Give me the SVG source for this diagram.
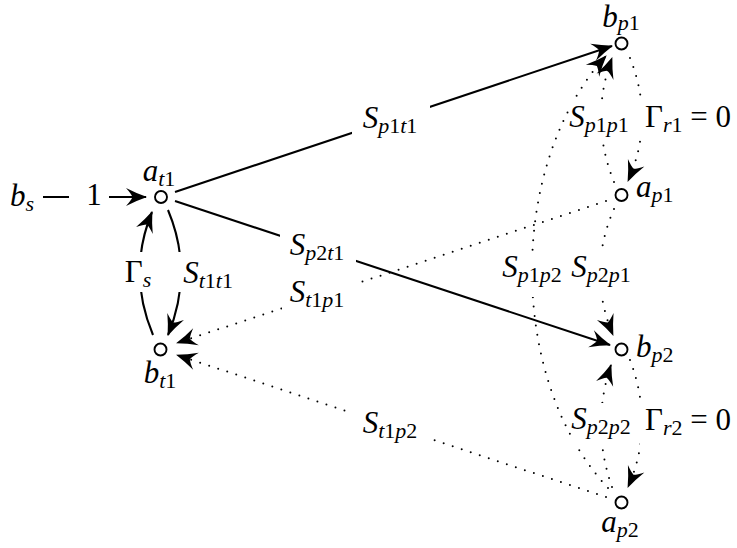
<svg xmlns="http://www.w3.org/2000/svg" width="737" height="548" viewBox="0 0 737 548">
<style>
text { font-family: "Liberation Serif", "DejaVu Serif", serif; font-size: 31px; font-style: italic; fill: #000; }
.up { font-style: normal; }
.sub { font-size: 22px; }
.c { text-anchor: middle; }
.solid { fill: none; stroke: #000; stroke-width: 2.1; }
.dot { fill: none; stroke: #000; stroke-width: 2; stroke-linecap: round; stroke-dasharray: 0 9.5; }
.node { fill: #fff; stroke: #000; stroke-width: 1.9; }
.bg { fill: #fff; stroke: none; }
</style>
<defs>
<marker id="arr" viewBox="-23 -11 25 22" refX="0" refY="0" markerWidth="25" markerHeight="22" markerUnits="userSpaceOnUse" orient="auto">
<path d="M1,0 Q-10,-3.8 -20,-9 Q-15,-3.5 -13.5,0 Q-15,3.5 -20,9 Q-10,3.8 1,0 Z" fill="#000"/>
</marker>
</defs>
<rect x="0" y="0" width="737" height="548" fill="#fff"/>

<g id="connectors">
<path id="e-bs-at1" class="solid" d="M43,197 L146,197" marker-end="url(#arr)"/>
<path id="e-at1-bp1" class="solid" d="M175,192 L612,46" marker-end="url(#arr)"/>
<path id="e-at1-bp2" class="solid" d="M175,201 L610,345" marker-end="url(#arr)"/>
<path id="e-bt1-at1" class="solid" d="M153,335 Q127,273 152,212" marker-end="url(#arr)"/>
<path id="e-at1-bt1" class="solid" d="M168,210 Q194,272 168,335" marker-end="url(#arr)"/>
<path id="e-ap1-bt1" class="dot" d="M606,201 L177,343" marker-end="url(#arr)"/>
<path id="e-ap2-bt1" class="dot" d="M606,497 L177,355" marker-end="url(#arr)"/>
<path id="e-bp1-ap1" class="dot" d="M630,58 Q655,120.5 628,181" marker-end="url(#arr)"/>
<path id="e-ap1-bp1" class="dot" d="M614,182 Q589,120 612,58" marker-end="url(#arr)"/>
<path id="e-ap2-bp1" class="dot" d="M608,488 C507,380 507,164 606,56" marker-end="url(#arr)"/>
<path id="e-ap1-bp2" class="dot" d="M614,209 Q586.5,272 613,335" marker-end="url(#arr)"/>
<path id="e-ap2-bp2" class="dot" d="M612,487 Q590.5,426 611,365" marker-end="url(#arr)"/>
<path id="e-bp2-ap2" class="dot" d="M630,360 Q655,426.5 628,487" marker-end="url(#arr)"/>
</g>

<g id="edge-labels">
<rect class="bg" x="69" y="184" width="40" height="26"/>
<text class="c up" x="94" y="205">1</text>

<rect class="bg" x="352" y="104" width="78" height="36"/>
<text class="c" x="390" y="128">S<tspan class="sub" dy="5">p</tspan><tspan class="sub up">1</tspan><tspan class="sub">t</tspan><tspan class="sub up">1</tspan></text>

<rect class="bg" x="280" y="228" width="76" height="38"/>
<text class="c" x="317" y="255">S<tspan class="sub" dy="5">p</tspan><tspan class="sub up">2</tspan><tspan class="sub">t</tspan><tspan class="sub up">1</tspan></text>

<rect class="bg" x="282" y="276" width="75" height="38"/>
<text class="c" x="317" y="302">S<tspan class="sub" dy="5">t</tspan><tspan class="sub up">1</tspan><tspan class="sub">p</tspan><tspan class="sub up">1</tspan></text>

<rect class="bg" x="347" y="408" width="86" height="38"/>
<text class="c" x="390" y="433">S<tspan class="sub" dy="5">t</tspan><tspan class="sub up">1</tspan><tspan class="sub">p</tspan><tspan class="sub up">2</tspan></text>

<rect class="bg" x="120" y="252" width="36" height="40"/>
<text class="c" x="138" y="282"><tspan class="up">Γ</tspan><tspan class="sub" dy="5">s</tspan></text>

<rect class="bg" x="178" y="252" width="60" height="40"/>
<text class="c" x="208" y="283">S<tspan class="sub" dy="5">t</tspan><tspan class="sub up">1</tspan><tspan class="sub">t</tspan><tspan class="sub up">1</tspan></text>

<rect class="bg" x="570" y="100" width="61" height="38"/>
<text class="c" x="599" y="127">S<tspan class="sub" dy="5">p</tspan><tspan class="sub up">1</tspan><tspan class="sub">p</tspan><tspan class="sub up">1</tspan></text>

<rect class="bg" x="640" y="100" width="97" height="38"/>
<text class="c" x="688" y="127"><tspan class="up">Γ</tspan><tspan class="sub" dy="5">r</tspan><tspan class="sub up">1</tspan><tspan class="up" dy="-5"> = 0</tspan></text>

<rect class="bg" x="500" y="251" width="65" height="46"/>
<text class="c" x="532" y="277">S<tspan class="sub" dy="5">p</tspan><tspan class="sub up">1</tspan><tspan class="sub">p</tspan><tspan class="sub up">2</tspan></text>

<rect class="bg" x="569" y="251" width="64" height="46"/>
<text class="c" x="601" y="277">S<tspan class="sub" dy="5">p</tspan><tspan class="sub up">2</tspan><tspan class="sub">p</tspan><tspan class="sub up">1</tspan></text>

<rect class="bg" x="572" y="403" width="61" height="42"/>
<text class="c" x="601" y="429">S<tspan class="sub" dy="5">p</tspan><tspan class="sub up">2</tspan><tspan class="sub">p</tspan><tspan class="sub up">2</tspan></text>

<rect class="bg" x="640" y="403" width="97" height="42"/>
<text class="c" x="688" y="430"><tspan class="up">Γ</tspan><tspan class="sub" dy="5">r</tspan><tspan class="sub up">2</tspan><tspan class="up" dy="-5"> = 0</tspan></text>
</g>

<g id="n-bs">
<text x="10" y="206">b<tspan class="sub" dy="5">s</tspan></text>
</g>
<g id="n-at1">
<circle class="node" cx="161" cy="197" r="6"/>
<text class="c" x="159" y="181">a<tspan class="sub" dy="5">t</tspan><tspan class="sub up">1</tspan></text>
</g>
<g id="n-bt1">
<circle class="node" cx="160.5" cy="349.5" r="6"/>
<text class="c" x="160" y="383">b<tspan class="sub" dy="5">t</tspan><tspan class="sub up">1</tspan></text>
</g>
<g id="n-bp1">
<circle class="node" cx="621.5" cy="43.5" r="6"/>
<text class="c" x="621" y="27">b<tspan class="sub" dy="3">p</tspan><tspan class="sub up">1</tspan></text>
</g>
<g id="n-ap1">
<circle class="node" cx="621.5" cy="195" r="6"/>
<text x="636" y="197">a<tspan class="sub" dy="5">p</tspan><tspan class="sub up">1</tspan></text>
</g>
<g id="n-bp2">
<circle class="node" cx="621.5" cy="349.5" r="6"/>
<text x="636" y="357">b<tspan class="sub" dy="5">p</tspan><tspan class="sub up">2</tspan></text>
</g>
<g id="n-ap2">
<circle class="node" cx="621.5" cy="502.5" r="6"/>
<text class="c" x="620" y="532">a<tspan class="sub" dy="5">p</tspan><tspan class="sub up">2</tspan></text>
</g>
</svg>
